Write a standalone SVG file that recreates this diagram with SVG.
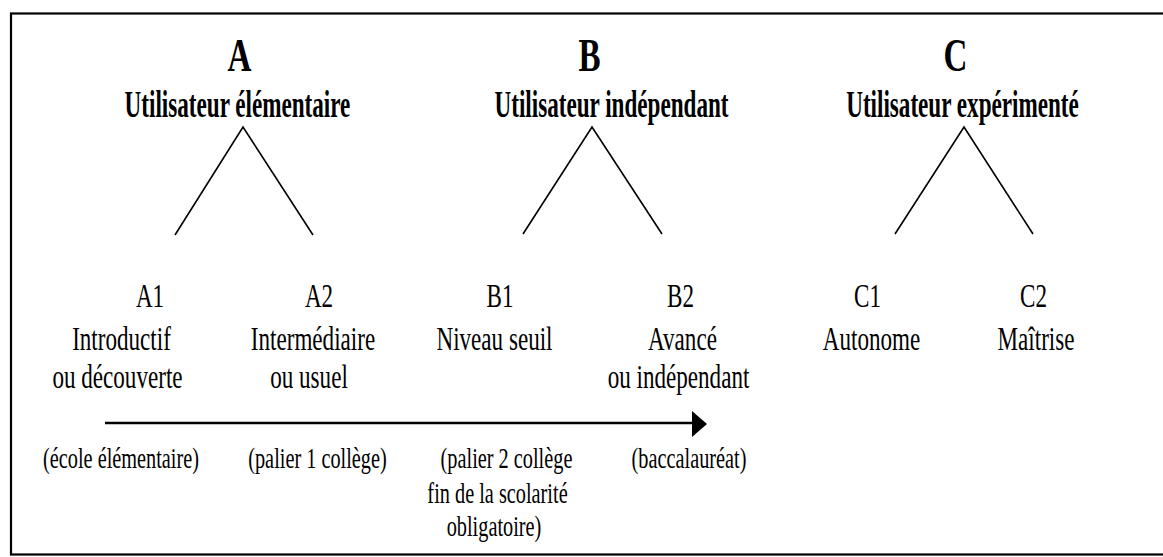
<svg xmlns="http://www.w3.org/2000/svg" width="1163" height="557" viewBox="0 0 1163 557">
<style>
.t{font-family:"Liberation Serif","Times New Roman",serif;fill:#000;text-anchor:middle}
.big{font-size:46px;font-weight:bold}
.sub{font-size:37px;font-weight:bold}
.r{font-size:33px}
.s{font-size:29px}
.ln{stroke:#000;stroke-width:1.6;fill:none}
</style>
<rect x="11" y="13.5" width="1160" height="541" fill="#fff" stroke="#000" stroke-width="2.2"/>
<g id="connectors">
<polyline class="ln" points="175,235 243,127 313,235"/>
<polyline class="ln" points="523,234 592,127 662,234"/>
<polyline class="ln" points="895,234 964,127 1033,234"/>
<line x1="105" y1="423" x2="695" y2="423" stroke="#000" stroke-width="2.5"/>
<polygon points="692,411 707,424 692,437" fill="#000"/>
</g>
<g id="A">
<text class="t big" transform="translate(239.5,71) scale(0.72,1)">A</text>
<text class="t sub" transform="translate(237.5,117) scale(0.625,1)">Utilisateur élémentaire</text>
</g>
<g id="B">
<text class="t big" transform="translate(589.5,71) scale(0.72,1)">B</text>
<text class="t sub" transform="translate(611.5,117) scale(0.625,1)">Utilisateur indépendant</text>
</g>
<g id="C">
<text class="t big" transform="translate(955.5,71) scale(0.72,1)">C</text>
<text class="t sub" transform="translate(962.5,117) scale(0.625,1)">Utilisateur expérimenté</text>
</g>
<g id="A1">
<text class="t r" transform="translate(150,307) scale(0.7,1)">A1</text>
<text class="t r" transform="translate(121.5,350) scale(0.7,1)">Introductif</text>
<text class="t r" transform="translate(117.5,388) scale(0.7,1)">ou découverte</text>
</g>
<g id="A2">
<text class="t r" transform="translate(319,307) scale(0.7,1)">A2</text>
<text class="t r" transform="translate(313,350) scale(0.7,1)">Intermédiaire</text>
<text class="t r" transform="translate(309,388) scale(0.7,1)">ou usuel</text>
</g>
<g id="B1">
<text class="t r" transform="translate(500,307) scale(0.7,1)">B1</text>
<text class="t r" transform="translate(494.5,350) scale(0.7,1)">Niveau seuil</text>
</g>
<g id="B2">
<text class="t r" transform="translate(680.5,307) scale(0.7,1)">B2</text>
<text class="t r" transform="translate(682.5,350) scale(0.7,1)">Avancé</text>
<text class="t r" transform="translate(678.5,388) scale(0.7,1)">ou indépendant</text>
</g>
<g id="C1">
<text class="t r" transform="translate(867.5,307) scale(0.7,1)">C1</text>
<text class="t r" transform="translate(871.5,350) scale(0.7,1)">Autonome</text>
</g>
<g id="C2">
<text class="t r" transform="translate(1033.5,307) scale(0.7,1)">C2</text>
<text class="t r" transform="translate(1036,350) scale(0.7,1)">Maîtrise</text>
</g>
<g id="stages">
<text class="t s" transform="translate(121,468) scale(0.7,1)">(école élémentaire)</text>
<text class="t s" transform="translate(317.5,468) scale(0.7,1)">(palier 1 collège)</text>
<text class="t s" transform="translate(506.5,468) scale(0.7,1)">(palier 2 collège</text>
<text class="t s" transform="translate(497.5,503) scale(0.7,1)">fin de la scolarité</text>
<text class="t s" transform="translate(494,536) scale(0.7,1)">obligatoire)</text>
<text class="t s" transform="translate(689,468) scale(0.7,1)">(baccalauréat)</text>
</g>
</svg>
